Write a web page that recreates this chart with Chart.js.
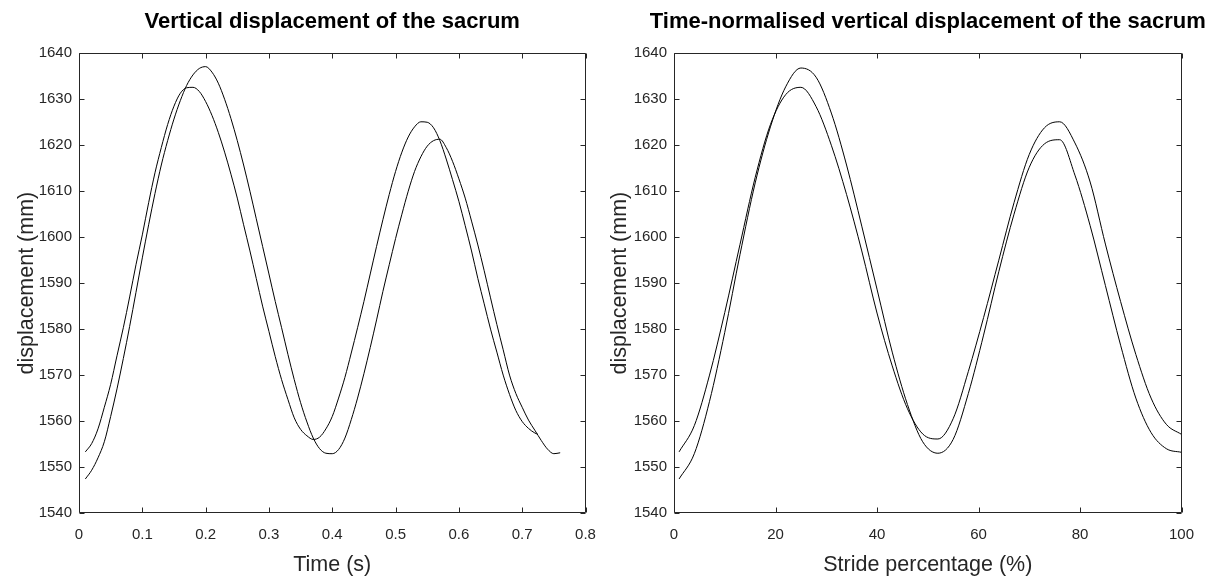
<!DOCTYPE html>
<html>
<head>
<meta charset="utf-8">
<script src="https://cdn.jsdelivr.net/npm/chart.js@4.4.1/dist/chart.umd.min.js"></script>
<style>
  html, body { margin: 0; padding: 0; background: #fff; }
  #wrap { position: relative; width: 1212px; height: 581px; }
  canvas { position: absolute; top: 0; }
  #left { left: 0; }
  #right { left: 606px; }
</style>
</head>
<body>
<div id="wrap">
  <canvas id="left" width="606" height="581"></canvas>
  <canvas id="right" width="606" height="581"></canvas>
</div>
<script>
// time (s) and sacrum height (mm), first stride
var timeA = [0.01,0.02,0.03,0.04,0.05,0.06,0.07,0.08,0.09,0.10,
             0.11,0.12,0.13,0.14,0.15,0.16,0.17,0.18,0.19,0.20,
             0.21,0.22,0.23,0.24,0.25,0.26,0.27,0.28,0.29,0.30,
             0.31,0.32,0.33,0.34,0.35,0.36,0.37,0.38,0.39,0.40,
             0.41,0.42,0.43,0.44,0.45,0.46,0.47,0.48,0.49,0.50,
             0.51,0.52,0.53,0.54,0.55,0.56,0.57,0.58,0.59,0.60,
             0.61,0.62,0.63,0.64,0.65,0.66,0.67,0.68,0.69,0.70,
             0.71,0.72,0.725];
var sacrumA = [1553.3,1555.1,1558.3,1563.0,1568.0,1574.2,1580.3,1587.0,1594.0,1600.5,
               1607.5,1614.0,1619.5,1624.5,1628.5,1631.3,1632.5,1632.6,1631.7,1629.5,
               1626.5,1622.8,1618.5,1613.7,1608.5,1602.7,1597.0,1591.0,1585.0,1579.5,
               1574.0,1569.0,1564.7,1560.7,1558.2,1556.8,1556.0,1556.5,1558.3,1561.0,
               1565.0,1569.5,1574.8,1580.3,1586.0,1592.0,1598.0,1603.8,1609.3,1614.3,
               1618.5,1621.8,1624.0,1625.1,1625.0,1623.8,1621.0,1617.0,1612.5,1607.8,
               1602.5,1597.0,1591.0,1585.5,1580.0,1575.0,1570.0,1565.8,1562.3,1559.9,
               1558.4,1557.4,1557.1];

// second stride
var timeB = [0.01,0.02,0.03,0.04,0.05,0.06,0.07,0.08,0.09,0.10,
             0.11,0.12,0.13,0.14,0.15,0.16,0.17,0.18,0.19,0.20,
             0.21,0.22,0.23,0.24,0.25,0.26,0.27,0.28,0.29,0.30,
             0.31,0.32,0.33,0.34,0.35,0.36,0.37,0.38,0.39,0.40,
             0.41,0.42,0.43,0.44,0.45,0.46,0.47,0.48,0.49,0.50,
             0.51,0.52,0.53,0.54,0.55,0.56,0.57,0.58,0.59,0.60,
             0.61,0.62,0.63,0.64,0.65,0.66,0.67,0.68,0.69,0.70,
             0.71,0.72,0.73,0.74,0.75,0.76];
var sacrumB = [1547.4,1549.3,1552.0,1555.5,1561.0,1567.0,1573.6,1580.6,1588.0,1595.5,
               1602.7,1609.5,1615.7,1621.0,1625.7,1629.7,1633.0,1635.3,1636.7,1637.1,
               1635.9,1633.5,1630.0,1625.8,1621.0,1615.7,1610.0,1604.0,1598.0,1592.0,
               1586.0,1580.3,1574.5,1569.0,1564.0,1559.8,1556.3,1554.0,1553.0,1552.9,
               1553.8,1556.3,1560.3,1565.0,1570.3,1576.0,1582.0,1588.2,1594.0,1599.7,
               1605.0,1610.0,1614.3,1617.5,1619.8,1621.0,1621.3,1619.5,1616.5,1612.7,
               1608.5,1603.5,1598.3,1592.7,1586.8,1581.0,1575.5,1570.0,1566.0,1563.0,
               1560.2,1558.0,1555.8,1553.9,1552.9,1553.1];

// stride percentage (%) for the time-normalised plot
var stridePct = [1,4,7,10,13,16,19,22,25,28,31,34,37,40,43,46,49,52,55,58,
                 61,64,67,70,73,76,79,82,85,88,91,94,97,100];
var normA = [1553.3,1559.0,1570.0,1583.6,1598.4,1613.0,1624.5,1631.0,1632.6,1628.4,
             1620.0,1609.3,1597.0,1583.5,1572.0,1562.7,1557.2,1556.1,1560.5,1570.8,
             1582.5,1595.0,1607.5,1618.0,1623.8,1625.1,1620.5,1612.0,1598.5,1586.0,
             1574.5,1565.0,1559.3,1557.1];
var normB = [1547.4,1552.9,1564.3,1579.3,1596.2,1611.8,1624.0,1632.7,1636.8,1634.8,
             1627.0,1615.7,1602.4,1588.7,1575.0,1563.6,1555.5,1553.0,1556.0,1566.0,
             1578.7,1592.5,1605.0,1615.2,1620.3,1621.2,1613.5,1602.5,1589.5,1576.5,
             1565.0,1557.5,1554.0,1553.2];

var yTicks = [1540,1550,1560,1570,1580,1590,1600,1610,1620,1630,1640];

var fam = "'Liberation Sans', Arial, sans-serif";
var tickGrey = '#262626';

function pairs(xs, ys) {
    var out = [];
    for (var i = 0; i < xs.length; i++) out.push({x: xs[i], y: ys[i]});
    return out;
}

// matlab style box with inward ticks on all four sides, title over the axes
var boxTicks = {
    id: 'boxTicks',
    afterDatasetsDraw: function(chart, args, opts) {
        var ctx = chart.ctx, a = chart.chartArea;
        var sx = chart.scales.x, sy = chart.scales.y;
        var L = Math.round(a.left) + 0.5, R = Math.round(a.right) - 0.5;
        var T = Math.round(a.top) + 0.5, B = Math.round(a.bottom) - 0.5;
        ctx.save();
        ctx.strokeStyle = tickGrey;
        ctx.lineWidth = 1;
        ctx.beginPath();
        ctx.rect(L, T, R - L, B - T);
        sx.ticks.forEach(function(t) {
            var px = Math.round(sx.getPixelForValue(t.value)) + 0.5;
            ctx.moveTo(px, B); ctx.lineTo(px, B - 5);
            ctx.moveTo(px, T); ctx.lineTo(px, T + 5);
        });
        sy.ticks.forEach(function(t) {
            var py = Math.round(sy.getPixelForValue(t.value)) + 0.5;
            ctx.moveTo(L, py); ctx.lineTo(L + 5, py);
            ctx.moveTo(R, py); ctx.lineTo(R - 5, py);
        });
        ctx.stroke();

        ctx.fillStyle = '#000';
        ctx.font = 'bold 22px ' + fam;
        ctx.textAlign = 'center';
        ctx.textBaseline = 'middle';
        ctx.fillText(opts.text, (a.left + a.right) / 2, 22);
        ctx.restore();
    }
};

function makeChart(id, title, sets, xOpts, yWidth, padRight, yTitlePad) {
    var ctx = document.getElementById(id).getContext('2d');
    return new Chart(ctx, {
        type: 'line',
        data: {
            datasets: sets.map(function(d) {
                return {
                    data: d,
                    borderColor: '#000',
                    borderWidth: 1,
                    pointRadius: 0,
                    cubicInterpolationMode: 'monotone',
                    fill: false
                };
            })
        },
        options: {
            responsive: false,
            animation: false,
            layout: {padding: {left: 0, right: padRight, top: 53.3, bottom: 0}},
            plugins: {
                legend: {display: false},
                tooltip: {enabled: false},
                title: {display: false},
                boxTicks: {text: title}
            },
            scales: {
                x: {
                    type: 'linear',
                    min: xOpts.min,
                    max: xOpts.max,
                    afterFit: function(s) {
                        s.height = 68;
                        s.paddingLeft = 0;
                        s.paddingRight = 0;
                    },
                    grid: {display: false, drawTicks: false},
                    border: {display: false},
                    ticks: {
                        stepSize: xOpts.step,
                        padding: 13,
                        color: tickGrey,
                        font: {family: fam, size: 15},
                        maxRotation: 0,
                        callback: function(v) { return String(+v.toFixed(2)); }
                    },
                    title: {
                        display: true,
                        text: xOpts.label,
                        color: tickGrey,
                        font: {family: fam, size: 21.5},
                        padding: {top: 0, bottom: 3.4}
                    }
                },
                y: {
                    min: 1540,
                    max: 1640,
                    afterFit: function(s) {
                        s.width = yWidth;
                        s.paddingTop = 0;
                        s.paddingBottom = 0;
                    },
                    afterBuildTicks: function(s) {
                        s.ticks = yTicks.map(function(v) { return {value: v}; });
                    },
                    grid: {display: false, drawTicks: false},
                    border: {display: false},
                    ticks: {
                        padding: 7,
                        color: tickGrey,
                        font: {family: fam, size: 15},
                        callback: function(v) { return String(v); }
                    },
                    title: {
                        display: true,
                        text: 'displacement (mm)',
                        color: tickGrey,
                        font: {family: fam, size: 21.5},
                        padding: {top: yTitlePad, bottom: 0}
                    }
                }
            }
        },
        plugins: [boxTicks]
    });
}

makeChart('left', 'Vertical displacement of the sacrum',
    [pairs(timeA, sacrumA), pairs(timeB, sacrumB)],
    {min: 0, max: 0.8, step: 0.1, label: 'Time (s)'}, 79, 20.5, 14);

makeChart('right', 'Time-normalised vertical displacement of the sacrum',
    [pairs(stridePct, normA), pairs(stridePct, normB)],
    {min: 0, max: 100, step: 20, label: 'Stride percentage (%)'}, 68, 30.5, 1.4);
</script>
</body>
</html>
